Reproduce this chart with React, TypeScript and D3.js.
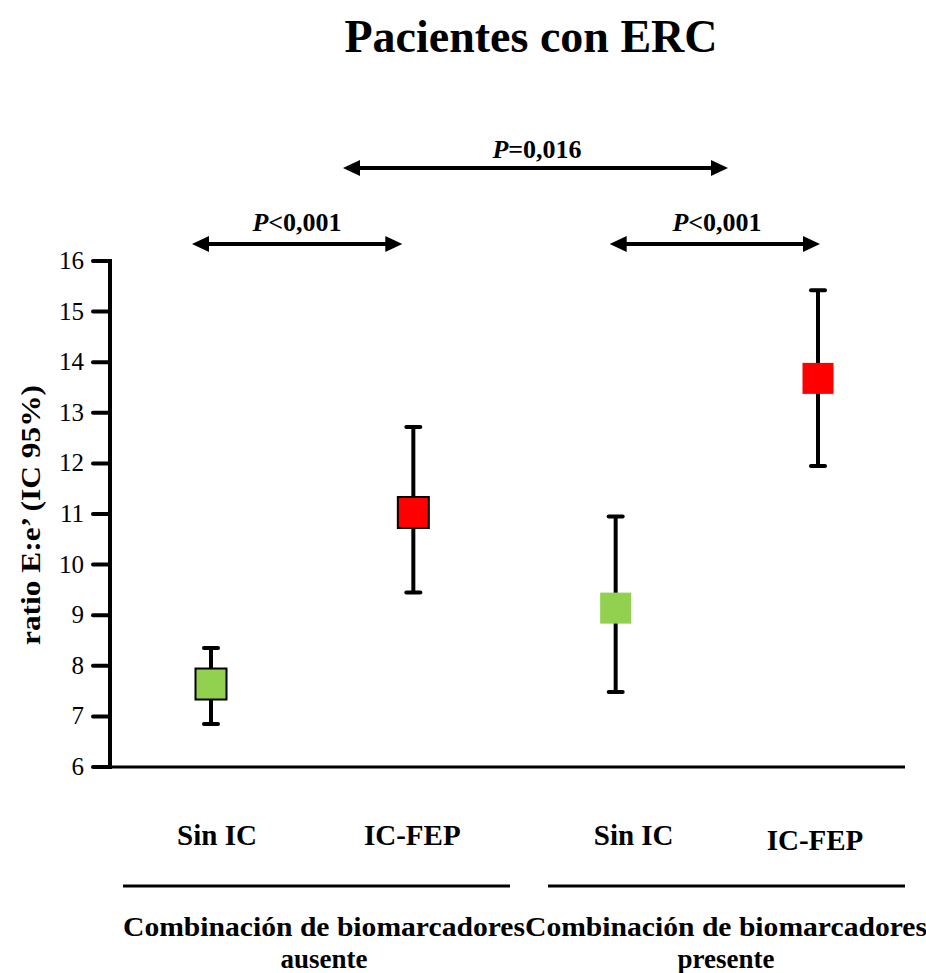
import React from "react";
import * as d3 from "d3";

const categories = ["Sin IC", "IC-FEP", "Sin IC", "IC-FEP"];
const groupLabels = [
  ["Combinación de biomarcadores", "ausente"],
  ["Combinación de biomarcadores", "presente"],
];
const means = [7.64, 11.03, 9.14, 13.68];
const lowers = [6.85, 9.45, 7.48, 11.95];
const uppers = [8.35, 12.72, 10.95, 15.42];
const colors = ["#92D050", "#FF0000", "#92D050", "#FF0000"];
const outlined = [true, true, false, false];
const yTicks = [6, 7, 8, 9, 10, 11, 12, 13, 14, 15, 16];
const pLabels = ["<0,001", "<0,001", "=0,016"];

const FONT = "'Liberation Serif', 'Times New Roman', Tinos, serif";

export default function App() {
  const W = 926;
  const H = 973;
  const y = d3.scaleLinear().domain([6, 16]).range([767, 261]);
  const x = d3.scaleLinear().domain([0, 3]).range([211, 818]);
  const sq = 31;
  const cap = 7;

  const arrow = (x1: number, x2: number, yy: number) => {
    const hl = 17;
    const hw = 8;
    return (
      <g>
        <line x1={x1 + hl - 2} x2={x2 - hl + 2} y1={yy} y2={yy} stroke="#000" strokeWidth={4} />
        <path d={`M${x1},${yy} L${x1 + hl},${yy - hw} L${x1 + hl},${yy + hw} Z`} fill="#000" />
        <path d={`M${x2},${yy} L${x2 - hl},${yy - hw} L${x2 - hl},${yy + hw} Z`} fill="#000" />
      </g>
    );
  };

  const arrows = [
    { x1: x(0) - 19, x2: x(1) - 11, ay: 244, ty: 231, tx: 297 },
    { x1: x(2) - 6, x2: x(3) + 2, ay: 244, ty: 231, tx: 717 },
    { x1: 343, x2: 728, ay: 168, ty: 158, tx: 537 },
  ];

  const T = { fontFamily: FONT };

  return (
    <svg width={W} height={H} style={{ display: "block", position: "absolute", left: 0, top: 0, fontFamily: FONT }}>
      <rect width={W} height={H} fill="#fff" />
      <text style={T} x={531} y={52} textAnchor="middle" fontWeight="bold" fontSize={47} textLength={373} lengthAdjust="spacingAndGlyphs">
        Pacientes con ERC
      </text>

      <text
        style={T}
        transform={`translate(40,515) rotate(-90)`}
        textAnchor="middle"
        fontWeight="bold"
        fontSize={28}
        textLength={260}
        lengthAdjust="spacingAndGlyphs"
      >
        ratio E:e’ (IC 95%)
      </text>

      <line x1={110} x2={110} y1={y(16) - 2} y2={y(6) + 2} stroke="#000" strokeWidth={4} />
      <line x1={108} x2={905} y1={y(6)} y2={y(6)} stroke="#000" strokeWidth={3} />
      {yTicks.map((t) => (
        <g key={t}>
          <line x1={93} x2={110} y1={y(t)} y2={y(t)} stroke="#000" strokeWidth={4} strokeLinecap="round" />
          <text style={T} x={84} y={y(t) + 8} textAnchor="end" fontSize={25}>
            {t}
          </text>
        </g>
      ))}

      {means.map((m, i) => (
        <g key={i}>
          <line x1={x(i)} x2={x(i)} y1={y(uppers[i])} y2={y(lowers[i])} stroke="#000" strokeWidth={4} />
          <line x1={x(i) - cap} x2={x(i) + cap} y1={y(uppers[i])} y2={y(uppers[i])} stroke="#000" strokeWidth={4} strokeLinecap="round" />
          <line x1={x(i) - cap} x2={x(i) + cap} y1={y(lowers[i])} y2={y(lowers[i])} stroke="#000" strokeWidth={4} strokeLinecap="round" />
          <rect
            x={x(i) - sq / 2}
            y={y(m) - sq / 2}
            width={sq}
            height={sq}
            fill={colors[i]}
            stroke={outlined[i] ? "#000" : "none"}
            strokeWidth={2}
          />
        </g>
      ))}

      {arrows.map((a, i) => (
        <g key={i}>
          {arrow(a.x1, a.x2, a.ay)}
          <text style={T} x={a.tx} y={a.ty} textAnchor="middle" fontWeight="bold" fontSize={26}>
            <tspan fontStyle="italic">P</tspan>
            {pLabels[i]}
          </text>
        </g>
      ))}

      {categories.map((c, i) => (
        <text
          style={T}
          key={i}
          x={x(i) + (i === 0 ? 6 : i === 2 ? 18 : i === 1 ? -1 : -3)}
          y={i === 3 ? 850 : 845}
          textAnchor="middle"
          fontWeight="bold"
          fontSize={29}
        >
          {c}
        </text>
      ))}

      {groupLabels.map((g, i) => {
        const x1 = i === 0 ? 123 : 548;
        const x2 = i === 0 ? 510 : 905;
        const cx = i === 0 ? 324 : 726;
        return (
          <g key={i}>
            <line x1={x1} x2={x2} y1={886} y2={886} stroke="#000" strokeWidth={3} />
            <text style={T} x={cx} y={936} textAnchor="middle" fontWeight="bold" fontSize={27} textLength={402} lengthAdjust="spacingAndGlyphs">
              {g[0]}
            </text>
            <text style={T} x={cx} y={968} textAnchor="middle" fontWeight="bold" fontSize={27}>
              {g[1]}
            </text>
          </g>
        );
      })}
    </svg>
  );
}
